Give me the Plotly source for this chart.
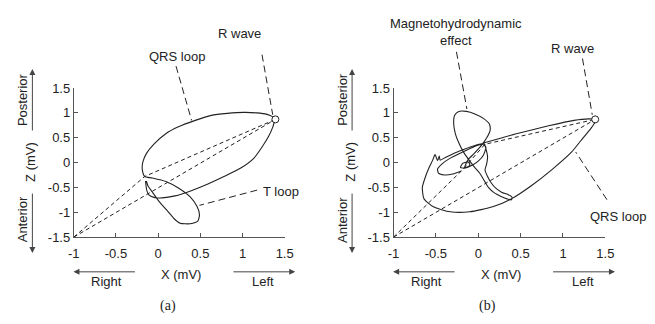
import plotly.graph_objects as go

W, H = 655, 324

# ---------------- data ----------------
X_TICKS = [-1, -0.5, 0, 0.5, 1, 1.5]
X_TICK_LABELS = ["-1", "-0.5", "0", "0.5", "1", "1.5"]
Y_TICKS = [-1.5, -1, -0.5, 0, 0.5, 1, 1.5]
Y_TICK_LABELS = ["-1.5", "-1", "-0.5", "0", "0.5", "1", "1.5"]
X_RANGE = [-1, 1.5]
Y_RANGE = [-1.5, 1.5]

# Panel (a): QRS loop followed by T loop (X, Z in mV)
A_LOOP_X = [-0.15, -0.135, -0.11, -0.05, 0.05, 0.20, 0.40, 0.59, 0.78, 0.98, 1.13, 1.23, 1.31, 1.36, 1.38, 1.39,
            1.36, 1.29, 1.17, 1.02, 0.82, 0.63, 0.44, 0.24, 0.09, -0.05, -0.14, -0.18, -0.19, -0.18, -0.16,
            -0.07, 0.09, 0.24, 0.38, 0.46, 0.49, 0.47, 0.38, 0.26, 0.19, 0.11, 0.01, -0.07, -0.12, -0.14]
A_LOOP_Y = [-0.37, -0.56, -0.65, -0.70, -0.71, -0.67, -0.56, -0.43, -0.28, -0.11, 0.08, 0.31, 0.53, 0.72, 0.83, 0.87,
            0.92, 0.97, 1.00, 1.01, 0.99, 0.95, 0.85, 0.72, 0.58, 0.37, 0.18, 0.02, -0.09, -0.21, -0.28,
            -0.31, -0.38, -0.51, -0.69, -0.88, -1.05, -1.18, -1.23, -1.22, -1.13, -0.97, -0.78, -0.59, -0.47, -0.37]
A_R_WAVE_X = [1.39]
A_R_WAVE_Y = [0.87]
A_VEC1_X = [-1, -0.16, 1.39]
A_VEC1_Y = [-1.5, -0.28, 0.87]
A_VEC2_X = [-1, 1.39]
A_VEC2_Y = [-1.5, 0.87]

# Panel (b): loop distorted by the magnetohydrodynamic effect
B_LOOP_X = [-0.20, -0.30, -0.40, -0.47, -0.48, -0.43, -0.34, -0.20, -0.05, 0.05, 0.09, 0.06, 0.00, -0.08, -0.15,
            -0.21, -0.18, -0.11, -0.10, -0.16,
            -0.12, -0.05, 0.03, 0.10, 0.14, 0.13, 0.06, -0.04, -0.14, -0.23, -0.28, -0.29, -0.27, -0.23, -0.17,
            -0.10, -0.04, 0.02, 0.07, 0.12, 0.19, 0.27, 0.34, 0.39, 0.40, 0.35, 0.28, 0.21, 0.15, 0.11, 0.08,
            0.10, 0.11, 0.09, 0.07,
            -0.05, -0.15, -0.27, -0.38, -0.45, -0.46, -0.48, -0.51, -0.54, -0.58, -0.62, -0.66, -0.64, -0.53,
            -0.33, -0.10, 0.17, 0.40, 0.63, 0.87, 1.10, 1.21, 1.33, 1.38, 1.38, 1.30, 1.13, 0.83, 0.45, 0.22, 0.07]
B_LOOP_Y = [-0.17, -0.23, -0.25, -0.21, -0.13, -0.03, 0.08, 0.20, 0.32, 0.37, 0.31, 0.15, 0.03, -0.06, -0.11,
            -0.10, -0.01, 0.01, -0.06, -0.10,
            0.06, 0.18, 0.33, 0.50, 0.65, 0.78, 0.89, 0.98, 1.03, 1.03, 0.95, 0.78, 0.58, 0.40, 0.20,
            0.03, -0.10, -0.22, -0.36, -0.50, -0.61, -0.68, -0.73, -0.75, -0.70, -0.64, -0.60, -0.52, -0.40, -0.28, -0.15,
            -0.02, 0.12, 0.28, 0.38,
            0.34, 0.28, 0.20, 0.11, 0.05, 0.13, 0.04, 0.16, 0.04, -0.10, -0.27, -0.50, -0.73, -0.89,
            -0.99, -0.99, -0.89, -0.72, -0.46, -0.14, 0.21, 0.44, 0.69, 0.82, 0.87, 0.88, 0.85, 0.74, 0.58, 0.47, 0.40]
B_R_WAVE_X = [1.38]
B_R_WAVE_Y = [0.87]
B_VEC1_X = [-1, -0.20, 0.08, 1.38]
B_VEC1_Y = [-1.5, -0.17, 0.37, 0.87]
B_VEC2_X = [-1, 1.38]
B_VEC2_Y = [-1.5, 0.87]

# ---------------- layout helpers ----------------
FONT = "Liberation Sans, Arial, sans-serif"
INK = "#222222"
AXC = "#555555"
DX = 327.2  # horizontal offset of panel (b) in pixels

def px(x):
    return x / W

def py(y):
    return 1 - y / H

fig = go.Figure()

curve = dict(color=INK, width=1.1, shape="spline", smoothing=0.6)
vec = dict(color=INK, width=1, dash="4px,3px")

for i, (lx, ly, rx, ry, v1x, v1y, v2x, v2y) in enumerate([
        (A_LOOP_X, A_LOOP_Y, A_R_WAVE_X, A_R_WAVE_Y, A_VEC1_X, A_VEC1_Y, A_VEC2_X, A_VEC2_Y),
        (B_LOOP_X, B_LOOP_Y, B_R_WAVE_X, B_R_WAVE_Y, B_VEC1_X, B_VEC1_Y, B_VEC2_X, B_VEC2_Y)]):
    xa = "x" if i == 0 else "x2"
    ya = "y" if i == 0 else "y2"
    fig.add_trace(go.Scatter(x=v1x, y=v1y, mode="lines", line=vec, xaxis=xa, yaxis=ya, hoverinfo="skip"))
    fig.add_trace(go.Scatter(x=v2x, y=v2y, mode="lines", line=vec, xaxis=xa, yaxis=ya, hoverinfo="skip"))
    fig.add_trace(go.Scatter(x=lx, y=ly, mode="lines", line=curve, xaxis=xa, yaxis=ya, hoverinfo="skip"))
    fig.add_trace(go.Scatter(x=rx, y=ry, mode="markers", xaxis=xa, yaxis=ya, hoverinfo="skip",
                             marker=dict(symbol="circle", size=7, color="white",
                                         line=dict(color=INK, width=1))))

y_dom = [1 - 241.3 / H, 1 - 85 / H]
axis_common = dict(showline=True, linecolor=AXC, linewidth=1, ticks="inside", ticklen=4,
                   tickcolor=AXC, tickwidth=1, showgrid=False, zeroline=False, fixedrange=True,
                   tickfont=dict(family=FONT, size=13, color=INK))

fig.update_layout(
    width=W, height=H, margin=dict(l=0, r=0, t=0, b=0),
    paper_bgcolor="white", plot_bgcolor="white", showlegend=False,
    xaxis=dict(domain=[69.4 / W, 285.2 / W], range=X_RANGE, tickvals=X_TICKS, ticktext=X_TICK_LABELS,
               anchor="y", ticklabelstandoff=4, **axis_common),
    yaxis=dict(domain=y_dom, range=Y_RANGE, tickvals=Y_TICKS, ticktext=Y_TICK_LABELS,
               anchor="x", **axis_common),
    xaxis2=dict(domain=[396.6 / W, 613.4 / W], range=X_RANGE, tickvals=X_TICKS, ticktext=X_TICK_LABELS,
                anchor="y2", ticklabelstandoff=4, **axis_common),
    yaxis2=dict(domain=y_dom, range=Y_RANGE, tickvals=Y_TICKS, ticktext=Y_TICK_LABELS,
                anchor="x2", **axis_common),
)

annotations = []
shapes = []

def text(xp, yp, t, size=13, angle=0, xanchor="center", family=FONT):
    annotations.append(dict(x=px(xp), y=py(yp), xref="paper", yref="paper", text=t, showarrow=False,
                            xanchor=xanchor, yanchor="middle", textangle=angle,
                            font=dict(family=family, size=size, color=INK)))

def arrow(x0, y0, x1, y1):
    # tail (x0, y0) -> head (x1, y1), pixels
    annotations.append(dict(x=px(x1), y=py(y1), xref="paper", yref="paper", text="",
                            showarrow=True, ax=x0 - x1, ay=y0 - y1, arrowhead=2, arrowsize=1.2,
                            arrowwidth=1, arrowcolor="#444444", standoff=0, startstandoff=0))

def leader(x0, y0, x1, y1):
    shapes.append(dict(type="line", xref="paper", yref="paper", x0=px(x0), y0=py(y0), x1=px(x1), y1=py(y1),
                       line=dict(color=INK, width=1, dash="7px,4px")))

for k in range(2):
    o = k * DX
    text(179 + o, 280, "X (mV)")
    text(103 + o, 288, "Right")
    text(263 + o, 288, "Left")
    arrow(132 + o, 277.7, 69 + o, 277.7)
    arrow(232.7 + o, 277.7, 296 + o, 277.7)
    text(25 + o, 162, "Z (mV)", angle=-90)
    text(17 + o, 97, "Posterior", angle=-90)
    text(17 + o, 223, "Anterior", angle=-90)
    arrow(27 + o, 128, 27 + o, 65)
    arrow(27 + o, 197, 27 + o, 258)
    text(166 + o, 314, "(a)" if k == 0 else "(b)", size=14, family="Liberation Serif, Times New Roman, serif")

# panel (a) labels
text(239, 28, "R wave")
leader(262, 50, 273, 113)
text(175, 52, "QRS loop")
leader(174, 62, 190, 119)
text(261, 193, "T loop", xanchor="left")
leader(257, 192, 198, 208)

# panel (b) labels
text(461, 26, "Magnetohydrodynamic<br>effect")
leader(461, 47, 471.7, 107)
text(580, 43, "R wave")
leader(590, 54, 600, 113)
text(626.5, 220, "QRS loop")
leader(615, 202, 583, 152)

fig.update_layout(annotations=annotations, shapes=shapes)
fig.write_html("out.html")
